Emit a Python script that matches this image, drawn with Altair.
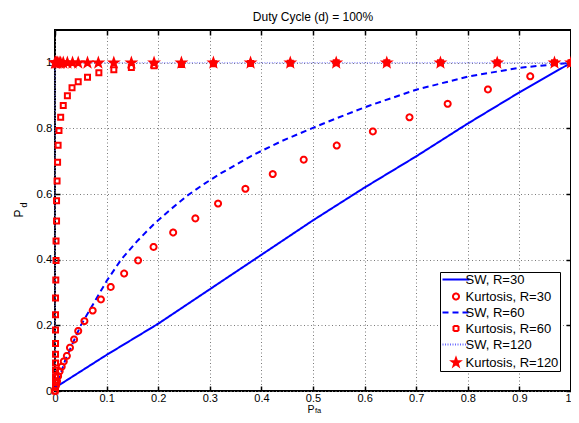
import math
import altair as alt
import pandas as pd

# ---------------- data ----------------
SERIES = ["SW, R=30", "Kurtosis, R=30", "SW, R=60", "Kurtosis, R=60", "SW, R=120", "Kurtosis, R=120"]

sw30_x = [0.0, 0.1, 0.2, 0.3, 0.4, 0.5, 0.6, 0.7, 0.8, 0.9, 1.0]
sw30_y = [0.01, 0.11, 0.205, 0.31, 0.415, 0.52, 0.62, 0.715, 0.815, 0.91, 1.0]

sw60_x = [0.0, 0.02, 0.05, 0.1, 0.128, 0.16, 0.19, 0.22, 0.256, 0.29, 0.32, 0.38, 0.44, 0.5,
          0.56, 0.61, 0.7, 0.8, 0.9, 1.0]
sw60_y = [0.0, 0.095, 0.2, 0.335, 0.4, 0.458, 0.506, 0.548, 0.595, 0.632, 0.662, 0.716, 0.762,
          0.802, 0.84, 0.87, 0.918, 0.958, 0.985, 1.0]

sw120_x = [0.0, 0.0, 1.0]
sw120_y = [0.0, 1.0, 1.0]

k30_x = [0.0, 0.002, 0.004, 0.006, 0.009, 0.013, 0.017, 0.023, 0.029, 0.037, 0.045, 0.057, 0.073,
         0.089, 0.108, 0.134, 0.161, 0.191, 0.229, 0.272, 0.316, 0.369, 0.422, 0.482, 0.546,
         0.616, 0.687, 0.761, 0.839, 0.921, 1.0]
k30_y = [0.0, 0.017, 0.03, 0.045, 0.06, 0.074, 0.09, 0.107, 0.132, 0.157, 0.183, 0.213, 0.245,
         0.279, 0.317, 0.358, 0.398, 0.439, 0.483, 0.526, 0.571, 0.616, 0.661, 0.705, 0.748,
         0.791, 0.834, 0.875, 0.919, 0.959, 1.0]

k60_x = [0.0, 0.001, 0.001, 0.001, 0.001, 0.001, 0.001, 0.001, 0.001, 0.001, 0.001, 0.0015, 0.002,
         0.002, 0.003, 0.003, 0.004, 0.005, 0.006, 0.0077, 0.011, 0.016, 0.024, 0.033, 0.045,
         0.063, 0.085, 0.114, 0.148, 0.192, 0.245, 0.307, 0.379, 0.456, 0.545, 0.643, 0.747,
         0.857, 0.968, 1.0]
k60_y = [0.0, 0.011, 0.025, 0.043, 0.063, 0.085, 0.112, 0.145, 0.186, 0.232, 0.283, 0.338, 0.398,
         0.457, 0.518, 0.58, 0.64, 0.697, 0.749, 0.794, 0.834, 0.870, 0.900, 0.924, 0.942,
         0.956, 0.970, 0.979, 0.986, 0.991, 0.995, 0.997, 0.998, 0.999, 1.0, 1.0, 1.0,
         1.0, 1.0, 1.0]

k120_x = [0.0, 0.001, 0.003, 0.005, 0.008, 0.011, 0.016, 0.024, 0.034, 0.045, 0.063, 0.084, 0.114,
          0.148, 0.192, 0.245, 0.307, 0.379, 0.456, 0.545, 0.643, 0.747, 0.857, 0.968, 1.0]
k120_y = [1.0, 1.0, 1.0, 1.0, 1.0, 1.0, 1.0, 1.0, 1.0, 1.0, 1.0, 1.0, 1.0,
          1.0, 1.0, 1.0, 1.0, 1.0, 1.0, 1.0, 1.0, 1.0, 1.0, 1.0, 1.0]

x_ticks = [0, 0.1, 0.2, 0.3, 0.4, 0.5, 0.6, 0.7, 0.8, 0.9, 1]
y_ticks = [0, 0.2, 0.4, 0.6, 0.8, 1]

TITLE = "Duty Cycle (d) = 100%"

# ---------------- table ----------------
rows = []
for name, xs_, ys_ in [(SERIES[0], sw30_x, sw30_y), (SERIES[1], k30_x, k30_y),
                       (SERIES[2], sw60_x, sw60_y), (SERIES[3], k60_x, k60_y),
                       (SERIES[4], sw120_x, sw120_y), (SERIES[5], k120_x, k120_y)]:
    for i, (a, b) in enumerate(zip(xs_, ys_)):
        rows.append({"x": a, "y": b, "series": name, "i": i})
df = pd.DataFrame(rows)

# ---------------- styles ----------------
W, H = 516, 361
FONT = "Liberation Sans"

def poly(r, n=28):
    pts = [(r * math.cos(2 * math.pi * k / n), r * math.sin(2 * math.pi * k / n)) for k in range(n)]
    return "M" + "L".join(f"{a:.3f},{b:.3f}" for a, b in pts) + "Z"

def star(R, r):
    pts = []
    for k in range(10):
        ang = math.radians(-90 + 36 * k)
        rr = R if k % 2 == 0 else r
        pts.append((rr * math.cos(ang), rr * math.sin(ang)))
    return "M" + "L".join(f"{a:.3f},{b:.3f}" for a, b in pts) + "Z"

LINE_SYM = "M-2.7,0L2.7,0"
SHAPES = [LINE_SYM, poly(0.6), LINE_SYM, "M-0.5,-0.5L0.5,-0.5L0.5,0.5L-0.5,0.5Z", LINE_SYM, star(0.85, 0.34)]
COLORS = ["#0000ff", "#ff0000", "#0000ff", "#ff0000", "#6a6aff", "#ff0000"]
FILLS = ["transparent", "transparent", "transparent", "transparent", "transparent", "#ff0000"]
DASHES = [[1, 0], [1, 0], [6, 4], [1, 0], [1, 1.5], [1, 0]]

xs = alt.Scale(domain=[0, 1], nice=False, zero=False)
ys = alt.Scale(domain=[0, 1.1], nice=False, zero=False)
leg = alt.Legend(title=None)
stroke_enc = alt.Stroke("series:N", scale=alt.Scale(domain=SERIES, range=COLORS), legend=leg)
dash_enc = alt.StrokeDash("series:N", scale=alt.Scale(domain=SERIES, range=DASHES), legend=leg)
fill_enc = alt.Fill("series:N", scale=alt.Scale(domain=SERIES, range=FILLS), legend=leg)
shape_enc = alt.Shape("series:N", scale=alt.Scale(domain=SERIES, range=SHAPES), legend=leg)

tick_common = dict(labels=False, grid=False, domain=False, ticks=True, tickSize=5,
                   tickColor="black", tickWidth=1.5, title=None)

x_main = alt.Axis(orient="bottom", values=x_ticks, format="~g", labelFont=FONT, labelFontSize=11,
                  labelColor="black", labelPadding=1, labelFlush=False, labelOverlap=False,
                  labelAlign=alt.condition("datum.value == 1", alt.value("right"), alt.value("center")),
                  ticks=False, domain=False, grid=True, gridColor="#7a7a7a", gridDash=[1, 2.5],
                  gridWidth=1, title=None)
y_main = alt.Axis(orient="left", values=y_ticks, format="~g", labelFont=FONT, labelFontSize=11.5,
                  labelColor="black", labelPadding=3, labelFlush=False, labelOverlap=False,
                  ticks=False, domain=False, grid=True, gridColor="#7a7a7a", gridDash=[1, 2.5],
                  gridWidth=1, title=None)
x_in_bottom = alt.Axis(orient="top", offset=-H, values=x_ticks, **tick_common)
y_in_left = alt.Axis(orient="right", offset=-W, values=y_ticks, **tick_common)
x_in_top = alt.Axis(orient="bottom", offset=-H, values=x_ticks, **tick_common)
y_in_right = alt.Axis(orient="left", offset=-W, values=y_ticks, **tick_common)

base = alt.Chart(df)

def line_layer(name, width, xa, ya):
    return base.transform_filter(alt.datum.series == name).mark_line(strokeWidth=width).encode(
        x=alt.X("x:Q", scale=xs, axis=xa),
        y=alt.Y("y:Q", scale=ys, axis=ya),
        stroke=stroke_enc,
        strokeDash=dash_enc,
        order=alt.Order("i:Q"),
    )

l30 = line_layer(SERIES[0], 2, x_main, y_main)
l60 = line_layer(SERIES[2], 2, x_in_bottom, y_in_left)
l120 = line_layer(SERIES[4], 1, x_in_top, y_in_right)

pts = base.transform_filter(
    alt.FieldOneOfPredicate(field="series", oneOf=[SERIES[1], SERIES[3], SERIES[5]])
).mark_point(size=100, strokeWidth=2, opacity=1).encode(
    x=alt.X("x:Q", scale=xs, axis=None),
    y=alt.Y("y:Q", scale=ys, axis=None),
    stroke=stroke_enc,
    fill=fill_enc,
    shape=shape_enc,
    order=alt.Order("i:Q"),
)

lab = pd.DataFrame({"t": ["P"]})
xt_p = alt.Chart(lab).mark_text(font=FONT, fontSize=10.5, align="center", baseline="alphabetic", color="black").encode(
    x=alt.value(W / 2 - 2), y=alt.value(382.5), text=alt.value("P"))
xt_s = alt.Chart(lab).mark_text(font=FONT, fontSize=7.5, align="left", baseline="alphabetic", color="black").encode(
    x=alt.value(W / 2 + 2), y=alt.value(383.3), text=alt.value("fa"))
yt_p = alt.Chart(lab).mark_text(font=FONT, fontSize=12, align="center", baseline="middle", angle=270, color="black").encode(
    x=alt.value(-36.5), y=alt.value(183.5), text=alt.value("P"))
yt_s = alt.Chart(lab).mark_text(font=FONT, fontSize=9, align="center", baseline="middle", angle=270, color="black").encode(
    x=alt.value(-31.5), y=alt.value(175), text=alt.value("d"))

chart = alt.layer(l30, l60, l120, pts, xt_p, xt_s, yt_p, yt_s).resolve_axis(
    x="independent", y="independent"
).properties(
    width=W, height=H,
    title=alt.Title(TITLE, font=FONT, fontSize=12, fontWeight="normal", color="black",
                    anchor="middle", offset=5),
    autosize=alt.AutoSizeParams(type="none"),
    padding={"left": 47, "top": 22, "right": 0, "bottom": 24},
).configure_view(
    stroke="black", strokeWidth=2
).configure_legend(
    orient="none", legendX=385, legendY=242, padding=1, fillColor="white",
    strokeColor="black", labelFont=FONT, labelFontSize=13, labelColor="black",
    symbolSize=100, symbolStrokeWidth=2, symbolOffset=8.5, labelOffset=3, rowPadding=2,
)

chart.save("out.html", embed_options={"renderer": "svg", "actions": False})
